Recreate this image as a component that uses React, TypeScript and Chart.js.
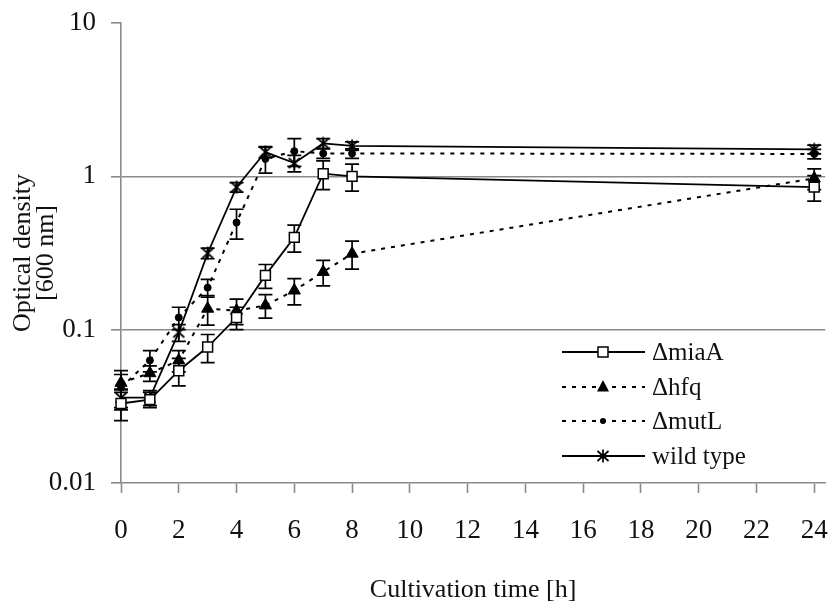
import React, { useEffect, useRef } from 'react';
import { Chart, registerables } from 'chart.js';

Chart.register(...registerables);

// ---- data ----
const hours = [0, 1, 2, 3, 4, 5, 6, 7, 8, 24];
const miaA = [0.033, 0.035, 0.054, 0.077, 0.12, 0.226, 0.4, 1.04, 1.0, 0.85];
const miaAErr = [0.0075, 0.004, 0.011, 0.016, 0.02, 0.04, 0.08, 0.22, 0.2, 0.16];
const hfq = [0.045, 0.052, 0.063, 0.137, 0.133, 0.144, 0.18, 0.238, 0.313, 0.97];
const hfqErr = [0.006, 0.006, 0.01, 0.03, 0.025, 0.025, 0.035, 0.045, 0.065, 0.15];
const mutL = [0.042, 0.063, 0.12, 0.188, 0.5, 1.3, 1.46, 1.41, 1.41, 1.4];
const mutLErr = [0.012, 0.01, 0.02, 0.025, 0.11, 0.25, 0.3, 0.1, 0.1, 0.1];
const wild = [0.036, 0.036, 0.096, 0.315, 0.85, 1.44, 1.22, 1.64, 1.58, 1.5];
const wildErr = [0.005, 0.004, 0.012, 0.025, 0.06, 0.12, 0.15, 0.12, 0.1, 0.1];
const seriesNames = ['\u0394miaA', '\u0394hfq', '\u0394mutL', 'wild type'];
const yTickValues = [0.01, 0.1, 1, 10];
const xTitle = 'Cultivation time [h]';
const yTitle = ['Optical density', '[600 nm]'];

const FONT = "'Liberation Serif', 'Times New Roman', serif";
const GRAY = '#8a8a8a';
const INK = '#111';

function makeAsterisk(): HTMLCanvasElement {
  const c = document.createElement('canvas');
  c.width = 16;
  c.height = 16;
  const g = c.getContext('2d')!;
  g.strokeStyle = '#000';
  g.lineWidth = 1.7;
  g.beginPath();
  g.moveTo(8, 1.5);
  g.lineTo(8, 14.5);
  g.moveTo(2.5, 3);
  g.lineTo(13.5, 13);
  g.moveTo(13.5, 3);
  g.lineTo(2.5, 13);
  g.stroke();
  return c;
}

const errorBarPlugin = {
  id: 'errorBars',
  beforeDatasetsDraw(chart: any) {
    const ctx = chart.ctx;
    const ys = chart.scales.y;
    ctx.save();
    ctx.strokeStyle = '#000';
    ctx.lineWidth = 1.7;
    chart.data.datasets.forEach((ds: any, i: number) => {
      const meta = chart.getDatasetMeta(i);
      meta.data.forEach((pt: any, j: number) => {
        const v = ds.data[j].y;
        const e = ds.errors[j];
        const top = ys.getPixelForValue(v + e);
        const bot = ys.getPixelForValue(Math.max(v - e, 0.0001));
        const x = pt.x;
        ctx.beginPath();
        ctx.moveTo(x, top);
        ctx.lineTo(x, bot);
        ctx.moveTo(x - 7, top);
        ctx.lineTo(x + 7, top);
        ctx.moveTo(x - 7, bot);
        ctx.lineTo(x + 7, bot);
        ctx.stroke();
      });
    });
    ctx.restore();
  },
};

const legendPlugin = {
  id: 'insideLegend',
  afterDraw(chart: any) {
    const ctx = chart.ctx;
    const x0 = 562, x1 = 645, mx = 603, tx = 652;
    const rowYs = [352, 387, 421, 456];
    ctx.save();
    chart.data.datasets.forEach((ds: any, i: number) => {
      const y = rowYs[i];
      ctx.strokeStyle = '#000';
      ctx.lineWidth = ds.borderWidth;
      ctx.setLineDash(ds.borderDash || []);
      ctx.beginPath();
      ctx.moveTo(x0, y);
      ctx.lineTo(x1, y);
      ctx.stroke();
      ctx.setLineDash([]);
      ctx.lineWidth = 1.5;
      const ps = ds.pointStyle;
      if (ps === 'rect') {
        ctx.fillStyle = '#fff';
        ctx.fillRect(mx - 5, y - 5, 10, 10);
        ctx.strokeRect(mx - 5, y - 5, 10, 10);
      } else if (ps === 'triangle') {
        ctx.fillStyle = '#000';
        ctx.beginPath();
        ctx.moveTo(mx, y - 7);
        ctx.lineTo(mx + 6, y + 4.5);
        ctx.lineTo(mx - 6, y + 4.5);
        ctx.closePath();
        ctx.fill();
      } else if (ps === 'circle') {
        ctx.fillStyle = '#000';
        ctx.beginPath();
        ctx.arc(mx, y, 3, 0, Math.PI * 2);
        ctx.fill();
      } else if (ps instanceof HTMLCanvasElement) {
        ctx.drawImage(ps, mx - ps.width / 2, y - ps.height / 2);
      }
      ctx.fillStyle = INK;
      ctx.font = `25px ${FONT}`;
      ctx.textAlign = 'left';
      ctx.textBaseline = 'middle';
      ctx.fillText(seriesNames[i], tx, y + 1);
    });
    ctx.restore();
  },
};

export default function App() {
  const ref = useRef<HTMLCanvasElement | null>(null);

  useEffect(() => {
    if (!ref.current) return;
    const asterisk = makeAsterisk();
    const toXY = (arr: number[]) => hours.map((h, i) => ({ x: h, y: arr[i] }));
    const chart = new Chart(ref.current, {
      type: 'line',
      data: {
        datasets: [
          {
            label: seriesNames[0],
            data: toXY(miaA),
            errors: miaAErr,
            borderColor: '#000',
            borderWidth: 1.8,
            pointStyle: 'rect',
            pointRadius: 7,
            pointBackgroundColor: '#fff',
            pointBorderColor: '#000',
            pointBorderWidth: 1.5,
            clip: false,
          },
          {
            label: seriesNames[1],
            data: toXY(hfq),
            errors: hfqErr,
            borderColor: '#000',
            borderWidth: 2,
            borderDash: [4, 6],
            pointStyle: 'triangle',
            pointRadius: 7,
            pointBackgroundColor: '#000',
            pointBorderColor: '#000',
            pointBorderWidth: 1,
            clip: false,
          },
          {
            label: seriesNames[2],
            data: toXY(mutL),
            errors: mutLErr,
            borderColor: '#000',
            borderWidth: 2,
            borderDash: [4, 6],
            pointStyle: 'circle',
            pointRadius: 3.5,
            pointBackgroundColor: '#000',
            pointBorderColor: '#000',
            pointBorderWidth: 1,
            clip: false,
          },
          {
            label: seriesNames[3],
            data: toXY(wild),
            errors: wildErr,
            borderColor: '#000',
            borderWidth: 1.8,
            pointStyle: asterisk,
            pointRadius: 7,
            pointBackgroundColor: '#000',
            pointBorderColor: '#000',
            clip: false,
          },
        ] as any,
      },
      options: {
        responsive: false,
        animation: false,
        devicePixelRatio: 1,
        layout: { padding: { top: 23, right: 1, left: 0, bottom: 0 } },
        plugins: {
          legend: { display: false },
          tooltip: { enabled: false },
        },
        scales: {
          x: {
            type: 'linear',
            min: 0,
            max: 24.38,
            afterFit: (s: any) => { s.height = 120; s.paddingLeft = 0; s.paddingRight = 0; },
            border: { color: GRAY, width: 1.6 },
            grid: { drawOnChartArea: false, tickColor: GRAY, tickLength: 10, tickWidth: 1.6 },
            ticks: {
              stepSize: 2,
              includeBounds: false,
              padding: 22,
              color: INK,
              font: { family: FONT, size: 27 },
              maxRotation: 0,
            },
            title: {
              display: true,
              text: xTitle,
              color: INK,
              font: { family: FONT, size: 26, lineHeight: '26px' },
              padding: { top: 0, bottom: 0 },
            },
          },
          y: {
            type: 'logarithmic',
            min: 0.01,
            max: 10,
            afterFit: (s: any) => { s.width = 121; s.paddingTop = 0; s.paddingBottom = 0; },
            afterBuildTicks: (s: any) => { s.ticks = yTickValues.map((v) => ({ value: v })); },
            border: { color: GRAY, width: 1.6 },
            grid: {
              color: (c: any) => (c.tick && (c.tick.value === 1 || c.tick.value === 0.1) ? GRAY : 'rgba(0,0,0,0)'),
              lineWidth: 1.6,
              tickColor: GRAY,
              tickLength: 10,
              tickWidth: 1.6,
            },
            ticks: {
              padding: 15,
              color: INK,
              font: { family: FONT, size: 27 },
              callback: (v: any) => String(v),
            },
            title: {
              display: true,
              text: yTitle,
              color: INK,
              font: { family: FONT, size: 26, lineHeight: '23px' },
              padding: { top: 12, bottom: 0 },
            },
          },
        },
      } as any,
      plugins: [errorBarPlugin, legendPlugin],
    });
    return () => chart.destroy();
  }, []);

  return (
    <div style={{ position: 'fixed', left: 0, top: 0, width: 834, height: 603, background: '#fff' }}>
      <canvas ref={ref} width={834} height={603} style={{ width: 834, height: 603, display: 'block' }} />
    </div>
  );
}
